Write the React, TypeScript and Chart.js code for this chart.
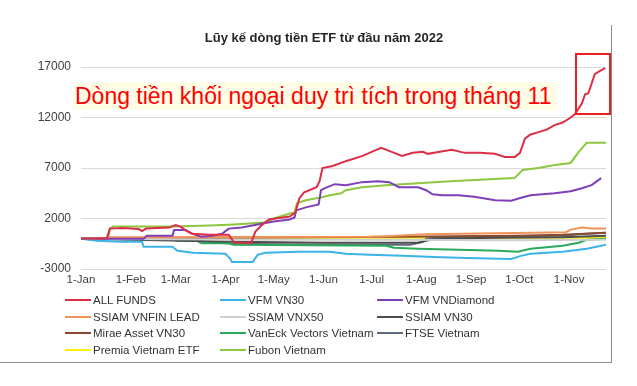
import React, { useEffect, useRef } from "react";
import { Chart, registerables } from "chart.js";

Chart.register(...registerables);

const TITLE = "Lũy kế dòng tiền ETF từ đầu năm 2022";
const NOTE = "Dòng tiền khối ngoại duy trì tích trong tháng 11";

// x values are days since 1-Jan-2022
const monthStartDays = [0, 31, 59, 90, 120, 151, 181, 212, 243, 273, 304];
const monthLabels = ["1-Jan", "1-Feb", "1-Mar", "1-Apr", "1-May", "1-Jun", "1-Jul", "1-Aug", "1-Sep", "1-Oct", "1-Nov"];
const yTicks = [-3000, 2000, 7000, 12000, 17000];

const allFunds: [number, number][] = [
  [0, 0], [16, 50], [18, 1000], [26, 1050], [36, 950], [38, 750], [40.5, 1000], [55, 1100], [59, 1350],
  [62, 1200], [65.5, 800], [69, 500], [80, 400], [92, 400], [95.5, -400], [106, -400], [108.6, 700],
  [113, 1400], [117, 1900], [130, 2200], [133.6, 2600], [136, 4000], [139, 4600], [146.7, 5100],
  [148.6, 5700], [150.4, 7000], [156.7, 7200], [165.4, 7700], [175.4, 8200], [181, 8600], [187, 9000],
  [193.5, 8600], [200, 8200], [206.6, 8500], [213, 8600], [216, 8400], [223.5, 8600], [231, 8800],
  [239, 8500], [248.4, 8500], [257.8, 8400], [264, 8100], [270.3, 8100], [273.4, 8500], [276.5, 9900],
  [279.7, 10300], [286, 10600], [290, 10800], [295, 11250], [300, 11500], [304.6, 11950], [307.7, 12350],
  [312, 13400], [314, 14300], [316, 14400], [320, 16300], [323, 16600], [326.5, 16900],
];
const vfmVn30: [number, number][] = [
  [0, 0], [10, -200], [25, -300], [38, -300], [39, -800], [57, -800], [60, -1200], [70, -1400], [90, -1500],
  [93, -2000], [94, -2300], [107, -2300], [110, -1600], [115, -1400], [135, -1300], [155, -1300],
  [165, -1500], [180, -1600], [200, -1700], [220, -1800], [240, -1900], [268, -2000], [274, -1700],
  [280, -1500], [300, -1300], [315, -1000], [327, -600],
];
const vfmVnDiamond: [number, number][] = [
  [0, 0], [39, 0], [41, 300], [57, 300], [58, 850], [65, 850], [70, 450], [75, 200], [82, 300], [88, 500],
  [92, 1000], [100, 1100], [110, 1400], [120, 1700], [130, 1900], [133, 2100], [134, 2800], [140, 3100],
  [148, 3400], [149.5, 4800], [152, 5000], [158, 5400], [165, 5300], [175, 5600], [185, 5700], [192, 5600],
  [198, 5100], [210, 5100], [215, 4800], [219, 4400], [225, 4300], [235, 4300], [245, 4150], [258, 3800],
  [268, 3750], [273, 4000], [280, 4300], [295, 4500], [305, 4700], [312, 5000], [318, 5300], [324, 6000],
];
const ssiamVnfinLead: [number, number][] = [
  [0, 0], [15, 0], [18, 150], [180, 200], [190, 250], [215, 450], [280, 600], [302, 650], [305, 900],
  [312, 1100], [318, 1000], [327, 1000],
];
const ssiamVnx50: [number, number][] = [
  [0, 0], [60, -50], [120, -100], [200, -100], [260, -150], [327, -100],
];
const ssiamVn30: [number, number][] = [
  [0, 0], [95, -300], [150, -400], [210, -400], [220, 0], [260, 100], [300, 150], [327, 300],
];
const miraeVn30: [number, number][] = [
  [0, 0], [30, 50], [100, 100], [200, 200], [270, 300], [300, 400], [327, 600],
];
const vanEck: [number, number][] = [
  [0, 0], [55, 0], [60, -200], [72, -200], [75, -450], [92, -450], [95, -600], [190, -700], [195, -900],
  [210, -1000], [260, -1200], [272, -1300], [280, -1000], [300, -700], [310, -400], [315, -100], [327, 0],
];
const ftseVietnam: [number, number][] = [
  [0, 0], [50, 0], [70, -200], [95, -500], [150, -600], [205, -600], [213, -300], [215, 0], [220, 150],
  [260, 250], [300, 300], [310, 450], [327, 600],
];
const premia: [number, number][] = [
  [0, 0], [20, 50], [100, 100], [327, 100],
];
const fubon: [number, number][] = [
  [0, 0], [17, 0], [18, 1000], [20, 1200], [59, 1200], [80, 1300], [95, 1400], [115, 1600], [120, 2000],
  [130, 2500], [133, 2600], [134.5, 3500], [140, 3800], [150, 4100], [155, 4300], [162, 4500], [165, 4800],
  [175, 5100], [190, 5300], [210, 5500], [230, 5700], [270, 6000], [275, 6800], [285, 7000], [295, 7300],
  [305, 7500], [310, 8600], [315, 9500], [327, 9500],
];

const seriesNames = [
  "ALL FUNDS", "VFM VN30", "VFM VNDiamond", "SSIAM VNFIN LEAD", "SSIAM VNX50", "SSIAM VN30",
  "Mirae Asset VN30", "VanEck Vectors Vietnam", "FTSE Vietnam", "Premia Vietnam ETF", "Fubon Vietnam",
];
const seriesData = [
  allFunds, vfmVn30, vfmVnDiamond, ssiamVnfinLead, ssiamVnx50, ssiamVn30, miraeVn30, vanEck, ftseVietnam,
  premia, fubon,
];
const seriesColors = [
  "#DC2F45", "#3AB4E6", "#7E3FB8", "#F0935A", "#CFCFCF", "#4D4D4D", "#8B4A2F", "#2BAA5B", "#5B6B7A",
  "#FFF200", "#8DC63F",
];

const FONT = "'Liberation Sans', Arial, Helvetica, sans-serif";
const legendCols = [65, 220, 377];
const legendRows = [300, 316.5, 333, 349.5];

export default function App() {
  const ref = useRef<HTMLCanvasElement | null>(null);
  useEffect(() => {
    if (!ref.current) return;
    const chart = new Chart(ref.current, {
      type: "line",
      data: {
        datasets: seriesNames.map((name, i) => ({
          label: name,
          data: seriesData[i].map(([x, y]) => ({ x, y })),
          borderColor: seriesColors[i],
          backgroundColor: seriesColors[i],
          borderWidth: 2,
          pointRadius: 0,
          tension: 0,
          fill: false,
        })),
      },
      options: {
        animation: false,
        responsive: false,
        maintainAspectRatio: false,
        layout: { padding: { left: 0, right: 31, top: 67, bottom: 6 } },
        plugins: { legend: { display: false }, tooltip: { enabled: false }, title: { display: false } },
        scales: {
          x: {
            type: "linear",
            min: 0,
            max: 327,
            afterFit: (s: any) => { s.height = 25; },
            afterBuildTicks: (s: any) => { s.ticks = monthStartDays.map((v) => ({ value: v })); },
            grid: { display: false, drawTicks: false },
            border: { display: false },
            ticks: {
              padding: 4,
              autoSkip: false,
              maxRotation: 0,
              color: "#404040",
              font: { family: FONT, size: 11.5 },
              callback: (v: any) => {
                const idx = monthStartDays.indexOf(Number(v));
                return idx >= 0 ? monthLabels[idx] : "";
              },
            },
          },
          y: {
            min: -3000,
            max: 17000,
            afterFit: (s: any) => { s.width = 81; },
            afterBuildTicks: (s: any) => { s.ticks = yTicks.map((v) => ({ value: v })); },
            grid: { color: "#D9D9D9", lineWidth: 1, drawTicks: false },
            border: { display: false },
            ticks: {
              padding: 10,
              color: "#404040",
              font: { family: FONT, size: 12 },
              callback: (v: any) => String(v),
            },
          },
        },
      },
    } as any);
    return () => chart.destroy();
  }, []);

  const legendItems = seriesNames.map((name, i) => {
    const col = i % 3;
    const row = Math.floor(i / 3);
    return (
      <div
        key={name}
        style={{
          position: "absolute",
          left: legendCols[col],
          top: legendRows[row] - 8,
          height: 16,
          display: "flex",
          alignItems: "center",
          whiteSpace: "nowrap",
          fontFamily: FONT,
          fontSize: 11.5,
          color: "#333",
        }}
      >
        <span style={{ display: "inline-block", width: 26, height: 2, background: seriesColors[i], marginRight: 2 }} />
        <span>{name}</span>
      </div>
    );
  });

  return (
    <div style={{ position: "fixed", left: 0, top: 0, width: 637, height: 386, background: "#fff", overflow: "hidden" }}>
      <canvas ref={ref} width={637} height={300} style={{ position: "absolute", left: 0, top: 0, width: 637, height: 300 }} />
      <div
        style={{
          position: "absolute",
          left: 0,
          width: 648,
          top: 30,
          textAlign: "center",
          fontFamily: FONT,
          fontWeight: "bold",
          fontSize: 13,
          lineHeight: "16px",
          color: "#262626",
        }}
      >
        {TITLE}
      </div>
      <div
        style={{
          position: "absolute",
          left: 73,
          top: 82,
          width: 484,
          height: 28,
          background: "#FFFDE6",
          color: "#FF0000",
          fontFamily: FONT,
          fontSize: 23,
          lineHeight: "28px",
          paddingLeft: 2,
          boxSizing: "border-box",
          whiteSpace: "nowrap",
        }}
      >
        {NOTE}
      </div>
      <div
        style={{
          position: "absolute",
          left: 575,
          top: 53,
          width: 36,
          height: 62,
          border: "2px solid #F21C1C",
          boxSizing: "border-box",
        }}
      />
      <div style={{ position: "absolute", left: 611, top: 25, width: 1, height: 338, background: "#8C8C8C" }} />
      <div style={{ position: "absolute", left: 0, top: 362, width: 612, height: 1, background: "#8C8C8C" }} />
      {legendItems}
    </div>
  );
}
